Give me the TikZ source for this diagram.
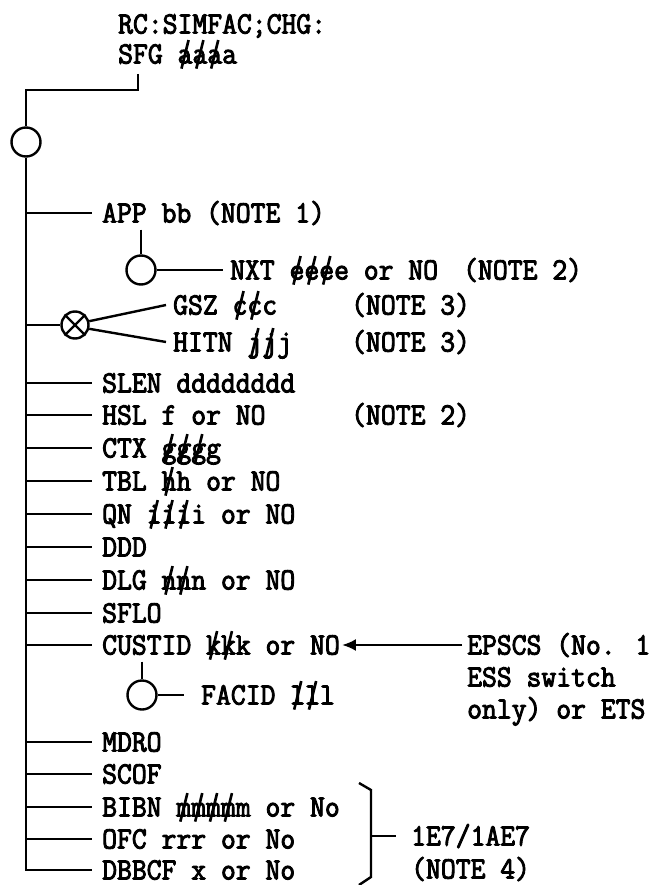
\documentclass[tikz,border=0pt]{standalone}
\usepackage{fontspec}
\usetikzlibrary{arrows.meta}
\newfontfamily\tw{Latin Modern Mono}[FakeBold=3,FakeStretch=0.93]
\newcommand\sk[1]{\ooalign{#1\cr\hidewidth\rotatebox[origin=c]{-14}{\rule[-0.18em]{0.085em}{0.95em}}\hidewidth\cr}}
\begin{document}
\begin{tikzpicture}[x=1pt,y=-1pt,line width=2.4pt,
  lbl/.style={anchor=west,inner sep=0pt,text height=19pt,text depth=0pt,font=\tw\fontsize{31pt}{36pt}\selectfont},
  ring/.style={circle,draw,minimum size=29pt,inner sep=0pt,line width=2.4pt}]
\useasboundingbox[fill=white] (0,0) rectangle (663,885);
% title
\node[lbl] (t1) at (117,24) {RC:SIMFAC;CHG:};
\node[lbl] (t2) at (117,54) {SFG \sk{a}\sk{a}\sk{a}a};
\coordinate (ts) at (138,74);
\coordinate (tc) at (138,90);
\node[ring] (c0) at (26,142) {};
\draw (ts) -- (tc) -- (tc -| c0) -- (c0.north);
% labels on the main line
\node[lbl] (app) at (101,213) {APP bb (NOTE 1)};
\node[lbl] (slen) at (101,383) {SLEN dddddddd};
\node[lbl] (hsl) at (101,415) {HSL f or NO};
\node[lbl] (n2b) at (350,415) {(NOTE 2)};
\node[lbl] (ctx) at (101,448) {CTX \sk{g}\sk{g}\sk{g}g};
\node[lbl] (tbl) at (101,481) {TBL \sk{h}h or NO};
\node[lbl] (qn) at (101,514) {QN \sk{i}\sk{i}\sk{i}i or NO};
\node[lbl] (ddd) at (101,547) {DDD};
\node[lbl] (dlg) at (101,580) {DLG \sk{n}\sk{n}n or NO};
\node[lbl] (sflo) at (101,613) {SFLO};
\node[lbl] (custid) at (101,645) {CUSTID \sk{k}\sk{k}k or NO};
\node[lbl] (mdro) at (101,742) {MDRO};
\node[lbl] (scof) at (101,774) {SCOF};
\node[lbl] (bibn) at (101,807) {BIBN \sk{m}\sk{m}\sk{m}\sk{m}m or No};
\node[lbl] (ofc) at (101,839) {OFC rrr or No};
\node[lbl] (dbbcf) at (101,870) {DBBCF x or No};
\draw (c0.south) -- (dbbcf.west -| c0) -- ([xshift=-9pt]dbbcf.west);
\foreach \n in {app,slen,hsl,ctx,tbl,qn,ddd,dlg,sflo,custid,mdro,scof,bibn,ofc}
  \draw (\n.west -| c0) -- ([xshift=-9pt]\n.west);
% NXT
\node[ring] (c1) at (141,270) {};
\draw ([yshift=-6pt]c1 |- app.south) -- (c1.north);
\node[lbl] (nxt) at (229,270) {NXT \sk{e}\sk{e}\sk{e}e or NO};
\node[lbl] (n2a) at (462,270) {(NOTE 2)};
\draw (c1.east) -- ([xshift=-6pt]nxt.west);
% GSZ / HITN
\node[ring,minimum size=27pt] (x1) at (75,325) {};
\draw (x1.45) -- (x1.225) (x1.135) -- (x1.315);
\draw (x1.west -| c0) -- (x1.west);
\node[lbl] (gsz) at (172,305) {GSZ \sk{c}\sk{c}c};
\node[lbl] (n3a) at (350,305) {(NOTE 3)};
\node[lbl] (hitn) at (172,342) {HITN \sk{j}\sk{j}j};
\node[lbl] (n3b) at (350,342) {(NOTE 3)};
\draw (x1.15) -- ([xshift=-6pt]gsz.west);
\draw (x1.-15) -- ([xshift=-6pt]hitn.west);
% CUSTID / EPSCS
\node[lbl] (epscs) at (466,645) {EPSCS (No. 1};
\node[lbl] (ess) at (466,677) {ESS switch};
\node[lbl] (only) at (466,709) {only) or ETS};
\draw[-{Latex[length=14pt,width=12pt]}] ([xshift=-4pt]epscs.west) -- ([xshift=1pt]custid.east);
% FACID
\node[ring] (c2) at (142,695) {};
\draw ([yshift=-6pt]c2 |- custid.south) -- (c2.north);
\node[lbl] (facid) at (200,695) {FACID \sk{l}\sk{l}l};
\draw (c2.east) -- ([xshift=-16pt]facid.west);
% bracket
\coordinate (brk) at (371,836);
\draw (359,783) -- (371,790) -- (371,877) -- (359,885);
\node[lbl] (e7) at (410,836) {1E7/1AE7};
\node[lbl] (n4) at (410,869) {(NOTE 4)};
\draw (brk) -- ([xshift=-14pt]e7.west);
\end{tikzpicture}
\end{document}
